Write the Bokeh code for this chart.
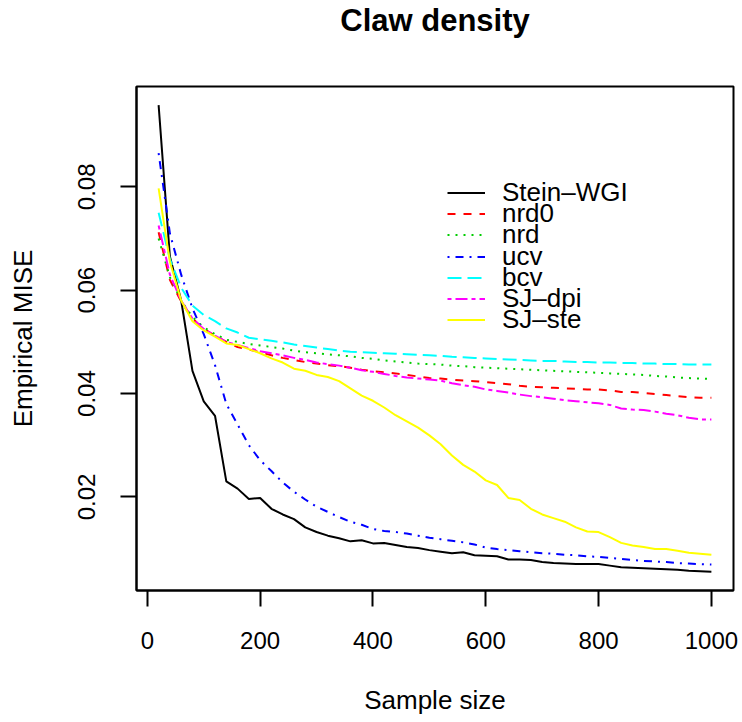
from bokeh.plotting import figure
from bokeh.models import Range1d, Legend, LegendItem, FixedTicker, Title
from bokeh.embed import file_html
from bokeh.resources import INLINE

sample_size = list(range(20, 1001, 20))

stein_wgi = [0.0958, 0.0665, 0.0580, 0.0444, 0.0385, 0.0357, 0.0230, 0.0216, 0.0196, 0.0198,
             0.0177, 0.0166, 0.0157, 0.0141, 0.0132, 0.0125, 0.0120, 0.0114, 0.0116, 0.0110,
             0.0111, 0.0107, 0.0103, 0.0101, 0.0097, 0.0094, 0.0091, 0.0093, 0.0087, 0.0086,
             0.0085, 0.0079, 0.0079, 0.0078, 0.0074, 0.0072, 0.0071, 0.0070, 0.0070, 0.0070,
             0.0067, 0.0064, 0.0063, 0.0062, 0.0061, 0.0060, 0.0059, 0.0057, 0.0056, 0.0055]

nrd0 = [0.0712, 0.0620, 0.0578, 0.0545, 0.0525, 0.0512, 0.0500, 0.0490, 0.0485, 0.0480,
        0.0474, 0.0469, 0.0465, 0.0461, 0.0458, 0.0455, 0.0453, 0.0450, 0.0446, 0.0443,
        0.0441, 0.0439, 0.0436, 0.0433, 0.0430, 0.0429, 0.0427, 0.0425, 0.0424, 0.0422,
        0.0420, 0.0418, 0.0415, 0.0413, 0.0412, 0.0411, 0.0410, 0.0409, 0.0408, 0.0408,
        0.0406, 0.0403, 0.0403, 0.0401, 0.0399, 0.0397, 0.0395, 0.0393, 0.0392, 0.0392]

nrd = [0.0700, 0.0625, 0.0580, 0.0548, 0.0528, 0.0515, 0.0504, 0.0500, 0.0496, 0.0493,
       0.0490, 0.0487, 0.0483, 0.0480, 0.0478, 0.0476, 0.0474, 0.0472, 0.0469, 0.0467,
       0.0464, 0.0462, 0.0460, 0.0458, 0.0457, 0.0456, 0.0454, 0.0453, 0.0451, 0.0450,
       0.0449, 0.0448, 0.0447, 0.0446, 0.0445, 0.0444, 0.0443, 0.0442, 0.0441, 0.0440,
       0.0439, 0.0438, 0.0437, 0.0436, 0.0434, 0.0433, 0.0431, 0.0430, 0.0429, 0.0428]

ucv = [0.0865, 0.0710, 0.0630, 0.0565, 0.0515, 0.0455, 0.0380, 0.0340, 0.0300, 0.0271,
       0.0250, 0.0228, 0.0210, 0.0195, 0.0181, 0.0171, 0.0161, 0.0152, 0.0146, 0.0138,
       0.0134, 0.0132, 0.0129, 0.0125, 0.0121, 0.0118, 0.0115, 0.0112, 0.0108, 0.0102,
       0.0099, 0.0097, 0.0095, 0.0093, 0.0091, 0.0090, 0.0088, 0.0087, 0.0085, 0.0084,
       0.0082, 0.0080, 0.0078, 0.0076, 0.0075, 0.0074, 0.0072, 0.0071, 0.0070, 0.0069]

bcv = [0.0750, 0.0660, 0.0605, 0.0570, 0.0552, 0.0540, 0.0526, 0.0518, 0.0508, 0.0505,
       0.0502, 0.0499, 0.0495, 0.0492, 0.0489, 0.0486, 0.0483, 0.0481, 0.0480, 0.0479,
       0.0478, 0.0477, 0.0476, 0.0475, 0.0474, 0.0473, 0.0471, 0.0470, 0.0469, 0.0468,
       0.0467, 0.0466, 0.0465, 0.0464, 0.0463, 0.0463, 0.0462, 0.0461, 0.0461, 0.0460,
       0.0460, 0.0459, 0.0459, 0.0458, 0.0458, 0.0457, 0.0457, 0.0456, 0.0456, 0.0456]

sj_dpi = [0.0725, 0.0630, 0.0580, 0.0545, 0.0525, 0.0512, 0.0500, 0.0494, 0.0488, 0.0482,
          0.0478, 0.0474, 0.0469, 0.0465, 0.0460, 0.0457, 0.0454, 0.0450, 0.0445, 0.0442,
          0.0438, 0.0434, 0.0431, 0.0429, 0.0427, 0.0425, 0.0420, 0.0416, 0.0413, 0.0408,
          0.0405, 0.0402, 0.0398, 0.0395, 0.0393, 0.0390, 0.0387, 0.0385, 0.0383, 0.0381,
          0.0378, 0.0371, 0.0369, 0.0368, 0.0365, 0.0361, 0.0358, 0.0353, 0.0350, 0.0350]

sj_ste = [0.0797, 0.0655, 0.0580, 0.0540, 0.0522, 0.0510, 0.0497, 0.0494, 0.0486, 0.0478,
          0.0468, 0.0460, 0.0448, 0.0444, 0.0436, 0.0432, 0.0424, 0.0410, 0.0396, 0.0386,
          0.0373, 0.0358, 0.0346, 0.0334, 0.0319, 0.0302, 0.0280, 0.0262, 0.0249, 0.0232,
          0.0223, 0.0198, 0.0194, 0.0177, 0.0166, 0.0159, 0.0152, 0.0141, 0.0133, 0.0132,
          0.0122, 0.0111, 0.0106, 0.0103, 0.0099, 0.0099, 0.0096, 0.0092, 0.0090, 0.0088]

series_names = ["Stein\u2013WGI", "nrd0", "nrd", "ucv", "bcv", "SJ\u2013dpi", "SJ\u2013ste"]
series_values = [stein_wgi, nrd0, nrd, ucv, bcv, sj_dpi, sj_ste]
series_colors = ["black", "#FF0000", "#00CD00", "#0000FF", "#00FFFF", "#FF00FF", "#FFFF00"]
series_dashes = ["solid", "8 8", "2 6", "2 6 8 6", "14 6", "4 4 12 4", "solid"]

x_ticks = [0, 200, 400, 600, 800, 1000]
y_ticks = [0.02, 0.04, 0.06, 0.08]

FONT = "Liberation Sans"

xmin, xmax = min(sample_size), max(sample_size)
allv = [v for s in series_values for v in s]
ymin, ymax = min(allv), max(allv)
xpad = 0.04 * (xmax - xmin)
ypad = 0.04 * (ymax - ymin)

p = figure(width=742, height=722, output_backend="svg", toolbar_location=None,
           x_range=Range1d(xmin - xpad, xmax + xpad),
           y_range=Range1d(ymin - ypad, ymax + ypad),
           min_border_left=136, min_border_right=9, min_border_top=86, min_border_bottom=132,
           title=None)

# spacer panel next to the frame, then the real title above it
p.add_layout(Title(text=" ", text_font_size="1px", standoff=46), "above")
p.add_layout(Title(text="Claw density", align="center", text_font=FONT, text_color="black",
                   text_font_size="31px", text_font_style="bold", standoff=0), "above")

p.xgrid.visible = False
p.ygrid.visible = False
p.outline_line_color = "black"
p.outline_line_width = 2

for ax in (p.xaxis[0], p.yaxis[0]):
    ax.axis_line_width = 2
    ax.major_tick_line_width = 2
    ax.major_tick_out = 16
    ax.major_tick_in = 0
    ax.minor_tick_line_color = None
    ax.major_label_text_font = FONT
    ax.major_label_text_font_size = "24px"
    ax.major_label_text_color = "black"
    ax.axis_label_text_font = FONT
    ax.axis_label_text_font_size = "26px"
    ax.axis_label_text_font_style = "normal"
    ax.axis_label_text_color = "black"

p.xaxis.ticker = FixedTicker(ticks=x_ticks)
p.yaxis.ticker = FixedTicker(ticks=y_ticks)
p.yaxis.major_label_orientation = "vertical"
p.xaxis.axis_label = "Sample size"
p.yaxis.axis_label = "Empirical MISE"
p.xaxis.major_label_standoff = 25
p.yaxis.major_label_standoff = 25
p.xaxis.axis_label_standoff = 33
p.yaxis.axis_label_standoff = 38

# legend: one row per entry, rows 21 px apart
frame_bottom = 590
first_row_center = 193
row_pitch = 21.2
row_half_height = 15
for i, (name, vals, col, dash) in enumerate(zip(series_names, series_values, series_colors, series_dashes)):
    r = p.line(sample_size, vals, line_color=col, line_width=2, line_dash=dash)
    c = first_row_center + i * row_pitch
    lg = Legend(items=[LegendItem(label=name, renderers=[r])],
                location=(311, frame_bottom - c - row_half_height),
                border_line_alpha=0, background_fill_alpha=0, padding=0, margin=0, spacing=0,
                glyph_width=38, glyph_height=21, label_height=21, label_standoff=17,
                label_text_font=FONT, label_text_font_size="26px", label_text_color="black")
    p.add_layout(lg)

open("out.html", "w").write(file_html(p, INLINE))
